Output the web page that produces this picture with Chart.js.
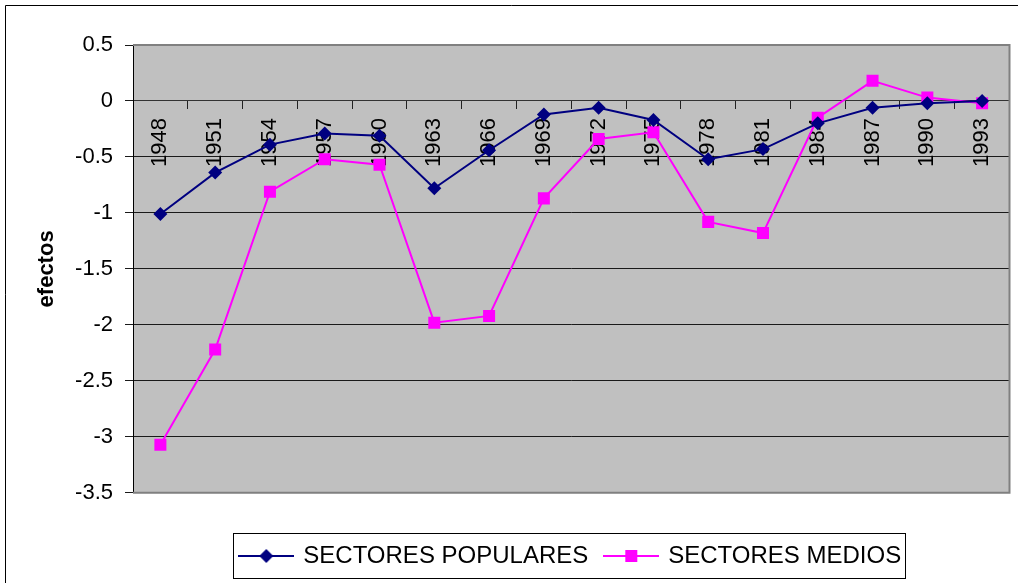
<!DOCTYPE html>
<html>
<head>
<meta charset="utf-8">
<script src="https://cdn.jsdelivr.net/npm/chart.js@4"></script>
<style>
  body { margin: 0; background: #fff; }
  #wrap { width: 1018px; height: 583px; }
</style>
</head>
<body>
<div id="wrap"><canvas id="efectosChart"></canvas></div>
<script>
const years = ["1948", "1951", "1954", "1957", "1960", "1963", "1966", "1969",
  "1972", "1975", "1978", "1981", "1984", "1987", "1990", "1993"];
const populares = [-1.01, -0.64, -0.39, -0.29, -0.31, -0.78, -0.44, -0.12,
  -0.06, -0.17, -0.52, -0.43, -0.20, -0.06, -0.02, 0.00];
const medios = [-3.07, -2.22, -0.81, -0.52, -0.57, -1.98, -1.92, -0.87,
  -0.34, -0.28, -1.08, -1.18, -0.15, 0.18, 0.03, -0.02];
const yMin = -3.5, yMax = 0.5, yStep = 0.5;

const NAVY = "#000080";
const MAGENTA = "#ff00ff";

Chart.defaults.font.family = 'Arial, "Liberation Sans", sans-serif';
Chart.defaults.color = "#000";

// legend symbol: line with marker, like Excel
function legendSymbol(color, diamond) {
  const c = document.createElement("canvas");
  c.width = 56; c.height = 18;
  const g = c.getContext("2d");
  g.strokeStyle = color; g.lineWidth = 2;
  g.beginPath(); g.moveTo(0, 9); g.lineTo(56, 9); g.stroke();
  g.fillStyle = color;
  if (diamond) {
    g.beginPath();
    g.moveTo(21, 9); g.lineTo(28, 2); g.lineTo(35, 9); g.lineTo(28, 16);
    g.closePath(); g.fill();
  } else {
    g.fillRect(22, 3, 12, 12);
  }
  return c;
}
const symbols = [legendSymbol(NAVY, true), legendSymbol(MAGENTA, false)];

const frame = {
  id: "frame",
  beforeDraw(chart) {
    const { ctx, chartArea: a } = chart;
    ctx.save();
    ctx.fillStyle = "#fff";
    ctx.fillRect(0, 0, chart.width, chart.height);
    ctx.strokeStyle = "#000"; ctx.lineWidth = 1;
    ctx.beginPath();
    ctx.moveTo(5.5, chart.height); ctx.lineTo(5.5, 5.5); ctx.lineTo(chart.width, 5.5);
    ctx.stroke();
    ctx.fillStyle = "#c0c0c0";
    ctx.fillRect(a.left, a.top, a.right - a.left, a.bottom - a.top);
    ctx.restore();
  },
  beforeDatasetsDraw(chart) {
    const { ctx, chartArea: a } = chart;
    ctx.save();
    ctx.strokeStyle = "#808080"; ctx.lineWidth = 2;
    ctx.beginPath();
    ctx.moveTo(a.left, a.top); ctx.lineTo(a.right, a.top);
    ctx.lineTo(a.right, a.bottom); ctx.lineTo(a.left, a.bottom);
    ctx.stroke();
    ctx.restore();
  },
  afterDraw(chart) {
    const hb = chart.legend.legendHitBoxes;
    if (!hb || !hb.length) return;
    const last = hb[hb.length - 1];
    const left = Math.round(hb[0].left - 8) + 0.5;
    const right = Math.round(last.left + last.width + 4) + 0.5;
    const top = Math.round(hb[0].top - 11) + 0.5;
    const bottom = Math.round(hb[0].top + hb[0].height + 10) + 0.5;
    const ctx = chart.ctx;
    ctx.save();
    ctx.strokeStyle = "#000"; ctx.lineWidth = 1;
    ctx.strokeRect(left, top, right - left, bottom - top);
    ctx.restore();
  }
};

new Chart(document.getElementById("efectosChart"), {
  type: "line",
  data: {
    labels: years,
    datasets: [
      {
        label: "SECTORES POPULARES",
        data: populares,
        borderColor: NAVY,
        backgroundColor: NAVY,
        borderWidth: 2,
        pointStyle: "rectRot",
        pointRadius: 7,
        pointBorderWidth: 0,
        tension: 0
      },
      {
        label: "SECTORES MEDIOS",
        data: medios,
        borderColor: MAGENTA,
        backgroundColor: MAGENTA,
        borderWidth: 2,
        pointStyle: "rect",
        pointRadius: 8.5,
        pointBorderWidth: 0,
        tension: 0
      }
    ]
  },
  options: {
    responsive: true,
    maintainAspectRatio: false,
    animation: false,
    layout: { padding: { top: 45, right: 7, left: 0, bottom: 5 } },
    scales: {
      x: {
        type: "category",
        position: { y: 0 },
        offset: true,
        grid: { offset: true, drawOnChartArea: false, drawTicks: true, tickLength: 8, color: "#222" },
        border: { display: true, color: "#333", width: 1 },
        ticks: { minRotation: 90, maxRotation: 90, autoSkip: false, padding: 9, font: { size: 22 } }
      },
      y: {
        min: yMin,
        max: yMax,
        afterFit(scale) { scale.width = 133; },
        grid: { color: "#1a1a1a", tickLength: 8, drawTicks: true },
        border: { display: true, color: "#000", width: 1 },
        ticks: {
          stepSize: yStep,
          padding: 12,
          font: { size: 22 },
          callback: (v) => String(Math.round(v * 10) / 10)
        },
        title: { display: true, text: "efectos", font: { size: 22, weight: "bold" }, padding: { top: 34, bottom: 0 } }
      }
    },
    plugins: {
      tooltip: { enabled: false },
      legend: {
        position: "bottom",
        fullSize: false,
        title: { display: true, text: "", font: { size: 1 }, padding: { top: 32, bottom: 0 } },
        labels: {
          usePointStyle: true,
          pointStyleWidth: 50,
          padding: 18,
          font: { size: 24 },
          generateLabels(chart) {
            const items = Chart.defaults.plugins.legend.labels.generateLabels(chart);
            items.forEach((it, i) => { it.pointStyle = symbols[i]; });
            return items;
          }
        }
      }
    }
  },
  plugins: [frame]
});
</script>
</body>
</html>
